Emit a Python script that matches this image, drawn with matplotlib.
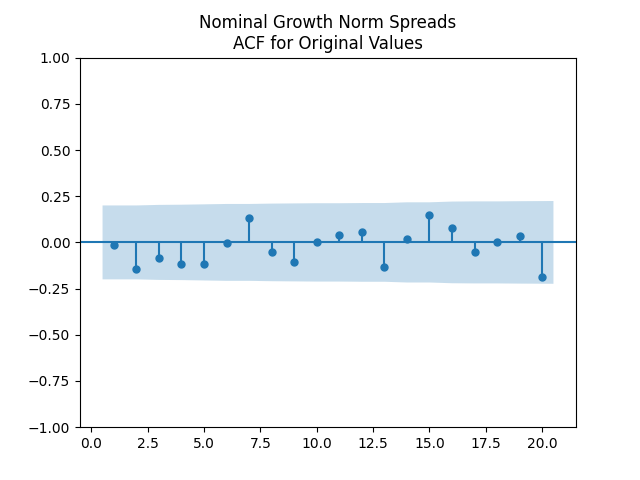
import numpy as np
import matplotlib
matplotlib.use('Agg')
import matplotlib.pyplot as plt

# acf values (lags 1..20, zero lag left out)
lags = np.arange(1, 21)
acf_vals = [-0.015, -0.142, -0.085, -0.117, -0.117, -0.005, 0.130, -0.052, -0.106, 0.000,
            0.038, 0.054, -0.132, 0.016, 0.147, 0.076, -0.052, 0.000, 0.033, -0.185]
# half width of the confidence band at each lag
band = [0.200, 0.200, 0.203, 0.204, 0.206, 0.208, 0.208, 0.210, 0.211, 0.212,
        0.212, 0.213, 0.213, 0.217, 0.217, 0.221, 0.222, 0.222, 0.223, 0.224]

fig, ax = plt.subplots(figsize=(6.4, 4.8), dpi=100)

acf_vals = np.array(acf_vals)
band = np.array(band)
ax.vlines(lags, [0], acf_vals)
ax.axhline()
ax.plot(lags, acf_vals, marker='o', markersize=5, linestyle='None')

bx = lags.astype(float)
bx[0] -= 0.5
bx[-1] += 0.5
ax.fill_between(bx, -band, band, alpha=.25, linewidth=0)

ax.set_xlim(-0.5, 21.5)
ax.set_ylim(-1, 1)
ax.set_title('Nominal Growth Norm Spreads\nACF for Original Values')

fig.savefig('out.png')
